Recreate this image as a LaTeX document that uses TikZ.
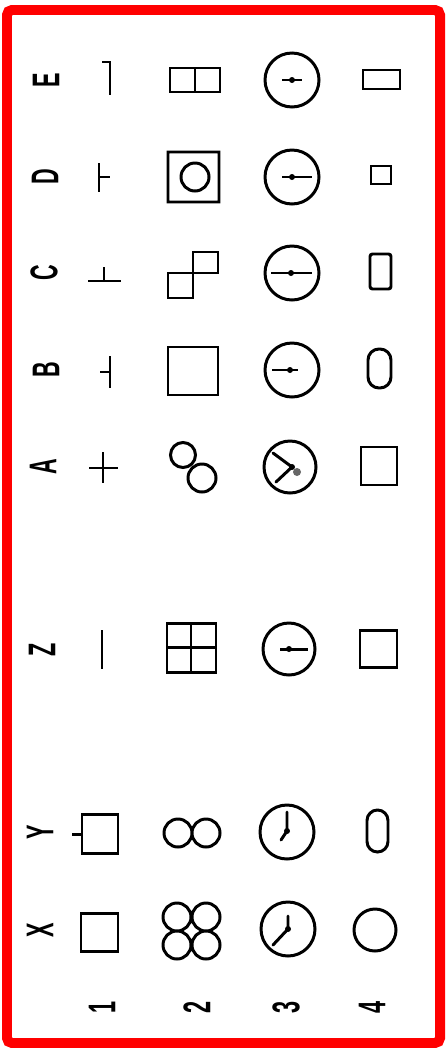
\documentclass[tikz,border=0pt]{standalone}
\usepackage{fontspec}
\setmainfont{Liberation Sans}
\usetikzlibrary{calc}
\tikzset{
  lbl/.style={rotate=90, inner sep=0pt, font=\fontsize{22}{22}\selectfont\bfseries},
  redframe/.style={draw=red, line width=2mm, rounded corners=1mm},
  hand/.style={line width=1.7pt, line cap=round},
  pill/.style={rounded corners=2.2mm},
}
\newcommand{\narrowtxt}[1]{\scalebox{0.56}[1]{#1}}

\begin{document}
\begin{tikzpicture}[x=0.02cm, y=-0.02cm, line width=1.7pt]
  \useasboundingbox (0,0) rectangle (446,1048);
  \draw[redframe] (7,10) rectangle (440,1043);
  % row and column labels
  \foreach \t/\x/\y in {E/46/80, D/45/177, C/44/273, B/46/370, A/43/467, Z/42/650, Y/40/832, X/40/930}
    \node[lbl] (lbl\t) at (\x,\y) {\narrowtxt{\t}};
  \foreach \t/\x in {1/102, 2/197, 3/286, 4/372}
    \node[lbl] (num\t) at (\x,1007) {\narrowtxt{\t}};
  % row E
  \draw (102,62) -- (110,62) -- (110,95);
  \draw (170,68) rectangle (220,92) (195,68) -- (195,92);
  \draw (292,80) circle (27); \draw (282,80) -- (302,80); \fill (292,80) circle (3);
  \draw (363,70) rectangle (400,89);
  % row D
  \draw (99,163) -- (99,192) (99,177) -- (110,177);
  \draw (168,152) rectangle (219,202) (195,177) circle (14);
  \draw (292,177) circle (27); \draw (282,177) -- (312,177); \fill (292,177) circle (3);
  \draw (371,166) rectangle (391,184);
  % row C
  \draw (88,281) -- (121,281) (104,267) -- (104,281);
  \draw (168,273) rectangle (193,298) (193,252) rectangle (218,273);
  \draw (292,273) circle (27); \draw (271,273) -- (312,273); \fill (291,273) circle (3);
  \draw[rounded corners=0.5mm] (370,254) rectangle (391,289);
  % row B
  \draw (110,356) -- (110,388) (100,372) -- (110,372);
  \draw (168,347) rectangle (218,395);
  \draw (292,370) circle (27); \draw (272,370) -- (298,370); \fill (290,370) circle (3);
  \draw[pill] (368,349) rectangle (391,388);
  % row A
  \draw (89,468) -- (118,468) (103,452) -- (103,483);
  \draw (183,455) circle (12.5) (202,478) circle (14);
  \draw (290,467) circle (26);
  \draw[hand] (292,467) -- (273,453) (292,467) -- (276,482);
  \fill (292,467) circle (3); \fill[black!60] (297,472) circle (4);
  \draw (361,447) rectangle (397,485);
  % row Z
  \draw (102,630) -- (102,669);
  \draw (167,623) rectangle (216,672) (191,623) -- (191,672) (167,647) -- (216,647);
  \draw (289,649) circle (26); \draw (280,649) -- (308,649); \fill (289,649) circle (3);
  \draw (360,630) rectangle (397,667);
  % row Y
  \draw (82,814) rectangle (118,853) (72,834) -- (82,834);
  \draw (178,833) circle (14) (206,833) circle (14);
  \draw (287,832) circle (27);
  \draw[hand] (287,831) -- (287,812) (287,831) -- (281,840); \fill (287,831) circle (3);
  \draw[rounded corners=2.1mm] (367,810) rectangle (388,852);
  % row X
  \draw (81,913) rectangle (118,951);
  \draw (177,917) circle (14) (206,917) circle (14) (177,945) circle (14) (206,945) circle (14);
  \draw (288,929) circle (27);
  \draw[hand] (288,929) -- (288,916) (288,929) -- (273,945); \fill (288,929) circle (3);
  \draw (375,930) circle (21);
\end{tikzpicture}
\end{document}
